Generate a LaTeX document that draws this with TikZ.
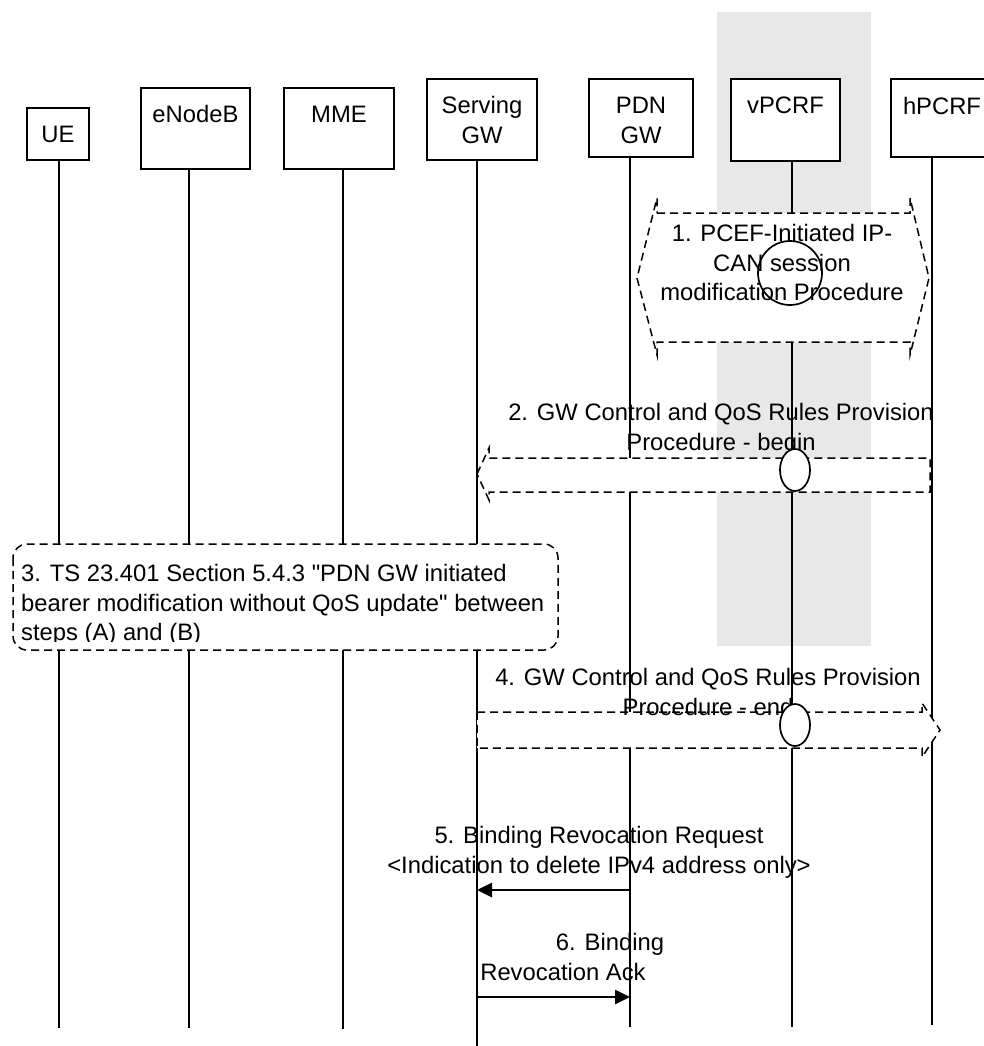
\documentclass[tikz,border=0pt]{standalone}
\usepackage{fontspec}
\setmainfont{Liberation Sans}
\usetikzlibrary{arrows.meta,shapes.geometric}
\definecolor{bandgray}{HTML}{E8E8E8}
\begin{document}
\begin{tikzpicture}[x=1pt, y=-1pt,
  font=\fontsize{23.8}{29.5}\selectfont,
  actor/.style={draw, line width=1.8pt, fill=white, inner sep=0pt},
  lbl/.style={inner sep=0pt, align=center, anchor=north},
  lifeline/.style={line width=1.5pt},
  proc/.style={draw, line width=1.5pt, dash pattern=on 8pt off 5pt, fill=white, line join=miter},
  marker/.style={draw, line width=1.7pt, fill=white, inner sep=0pt},
  msg/.style={line width=2.6pt, -{Triangle[length=15pt,width=14pt]}}
]
\useasboundingbox (0,0) rectangle (984,1046);
% grey band behind vPCRF
\fill[bandgray] (717,12) rectangle (871,646);

% lifeline end points
\coordinate (ueEnd) at (59,1028);
\coordinate (enbEnd) at (189,1028);
\coordinate (mmeEnd) at (343,1029);
\coordinate (sgwEnd) at (477,1046);
\coordinate (pgwEnd) at (630,1027);
\coordinate (vpEnd) at (792,1027);
\coordinate (hpEnd) at (932,1025);

% header boxes
\node[actor, minimum width=62pt, minimum height=52pt] (ue) at (58,134) {};
\node[actor, minimum width=109pt, minimum height=81pt] (enb) at (195.5,128.5) {};
\node[actor, minimum width=110pt, minimum height=81pt] (mme) at (339,128.5) {};
\node[actor, minimum width=110pt, minimum height=81pt] (sgw) at (482,119.5) {};
\node[actor, minimum width=104pt, minimum height=78pt] (pgw) at (641,118) {};
\node[actor, minimum width=109pt, minimum height=82pt] (vp) at (785.5,120) {};
\node[actor, minimum width=102pt, minimum height=78pt] (hp) at (942,118) {};

% lifelines
\draw[lifeline] (ue.south -| ueEnd) -- (ueEnd);
\draw[lifeline] (enb.south -| enbEnd) -- (enbEnd);
\draw[lifeline] (mme.south -| mmeEnd) -- (mmeEnd);
\draw[lifeline] (sgw.south -| sgwEnd) -- (sgwEnd);
\draw[lifeline] (pgw.south -| pgwEnd) -- (pgwEnd);
\draw[lifeline] (vp.south -| vpEnd) -- (vpEnd);
\draw[lifeline] (hp.south -| hpEnd) -- (hpEnd);

% header labels
\node[lbl] (ueT) at (58,125.5) {UE};
\node[lbl] (enbT) at (195.5,105.5) {eNodeB};
\node[lbl] (mmeT) at (339,105.5) {MME};
\node[lbl] (sgwT) at (482,96.5) {Serving\\GW};
\node[lbl] (pgwT) at (641,97) {PDN\\GW};
\node[lbl] (vpT) at (785.5,97) {vPCRF};
\node[lbl] (hpT) at (942,97) {hPCRF};

% step 1
\draw[proc] (657,213) -- (910,213) -- (910,198) -- (929,278) -- (910,355) -- (910,342)
  -- (657,342) -- (657,355) -- (637,278) -- (657,198) -- cycle;
\node[marker, circle, minimum size=64pt] (c1) at (790,273) {};
\node[lbl] (t1) at (782,224.5) {1. PCEF-Initiated IP-\\CAN session\\modification Procedure};

% step 2
\draw[proc] (477,474) -- (489,448) -- (489,458) -- (930,458) -- (930,492) -- (489,492) -- (489,500) -- cycle;
\node[lbl] (t2) at (721,403.5) {2. GW Control and QoS Rules Provision\\Procedure - begin};
\node[marker, ellipse, minimum width=30pt, minimum height=42pt] (e2) at (795,470) {};

% step 3
\draw[proc, rounded corners=14pt] (13,544) rectangle (558,650);
\begin{scope}
\clip (13,544) rectangle (558,641);
\node[inner sep=0pt, align=left, anchor=north west] (t3) at (21,564.5)
  {3. TS 23.401 Section 5.4.3 \textquotedbl PDN GW initiated\\bearer modification without QoS update\textquotedbl\ between\\steps (A) and (B)};
\end{scope}

% step 4
\draw[proc] (477,712) -- (922,712) -- (922,703) -- (940,730) -- (922,757) -- (922,748) -- (477,748) -- cycle;
\node[lbl] (t4) at (708,668.5) {4. GW Control and QoS Rules Provision\\Procedure - end};
\node[marker, ellipse, minimum width=30pt, minimum height=42pt] (e4) at (795,725) {};

% step 5
\coordinate (m5) at (0,890);
\node[lbl] (t5) at (599,826.5) {5. Binding Revocation Request\\<Indication to delete IPv4 address only>};
\draw[msg] (pgwEnd |- m5) -- (sgwEnd |- m5);

% step 6
\coordinate (m6) at (0,997);
\node[lbl] (t6a) at (610,933.5) {6. Binding};
\node[lbl] (t6b) at (563,963.5) {Revocation Ack};
\draw[msg] (sgwEnd |- m6) -- (pgwEnd |- m6);
\end{tikzpicture}
\end{document}
